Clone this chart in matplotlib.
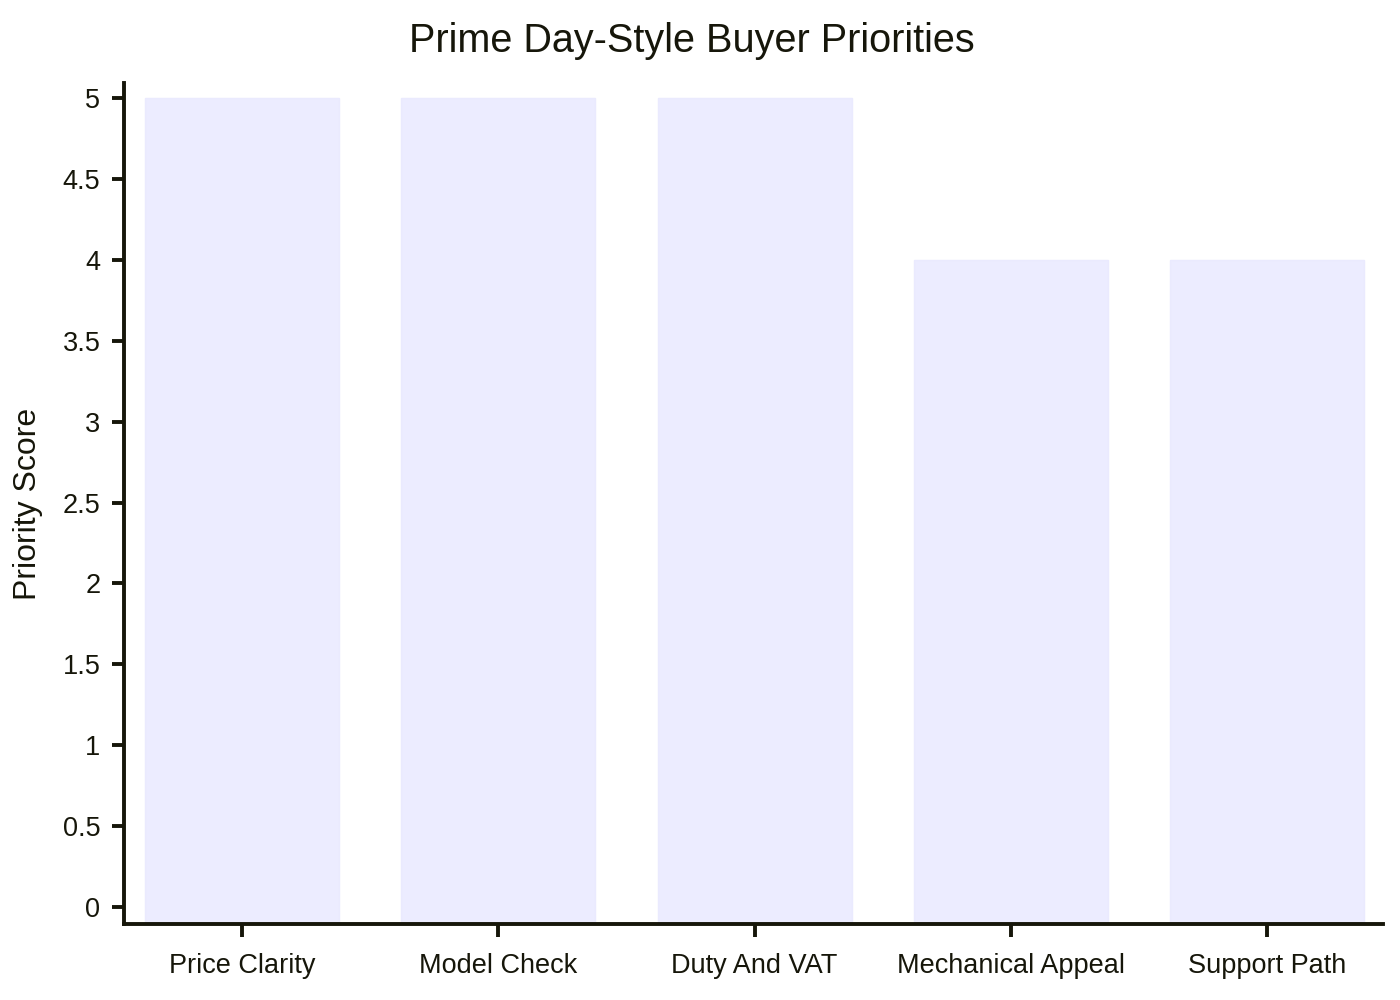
import matplotlib
matplotlib.use("Agg")
import matplotlib.pyplot as plt

# chart data
categories = ["Price Clarity", "Model Check", "Duty And VAT", "Mechanical Appeal", "Support Path"]
scores = [5, 5, 5, 4, 4]
y_ticks = [0, 0.5, 1, 1.5, 2, 2.5, 3, 3.5, 4, 4.5, 5]
y_tick_labels = ["0", "0.5", "1", "1.5", "2", "2.5", "3", "3.5", "4", "4.5", "5"]

ink = "#16160a"
bar_color = "#ececff"

plt.rcParams["font.family"] = ["Liberation Sans", "DejaVu Sans"]

fig = plt.figure(figsize=(14, 10), dpi=100)
ax = fig.add_axes([0.0886, 0.076, 0.8994, 0.841])

y_lo, y_hi = -0.105, 5.093
x = list(range(len(categories)))
# bars run down to the axis line, as in the reference
ax.bar(x, [s - y_lo for s in scores], bottom=y_lo, width=0.757,
       color=bar_color, edgecolor="#eaeafe", linewidth=1)

ax.set_xlim(-0.46, len(categories) - 1 + 0.453)
ax.set_ylim(y_lo, y_hi)

ax.set_xticks(x)
ax.set_xticklabels(categories, fontsize=19.5, color=ink)
ax.set_yticks(y_ticks)
ax.set_yticklabels(y_tick_labels, fontsize=19.5, color=ink)

ax.tick_params(axis="both", direction="out", length=9, width=2.8, color=ink, pad=8)
ax.tick_params(axis="x", pad=12)

for side in ["top", "right"]:
    ax.spines[side].set_visible(False)
for side in ["left", "bottom"]:
    ax.spines[side].set_color(ink)
    ax.spines[side].set_linewidth(2.8)

ax.set_ylabel("Priority Score", fontsize=23, color=ink, labelpad=14)
fig.text(0.494, 0.959, "Prime Day-Style Buyer Priorities", fontsize=28.5, color=ink,
         ha="center", va="center")

fig.savefig("out.png", dpi=100, facecolor="white")
